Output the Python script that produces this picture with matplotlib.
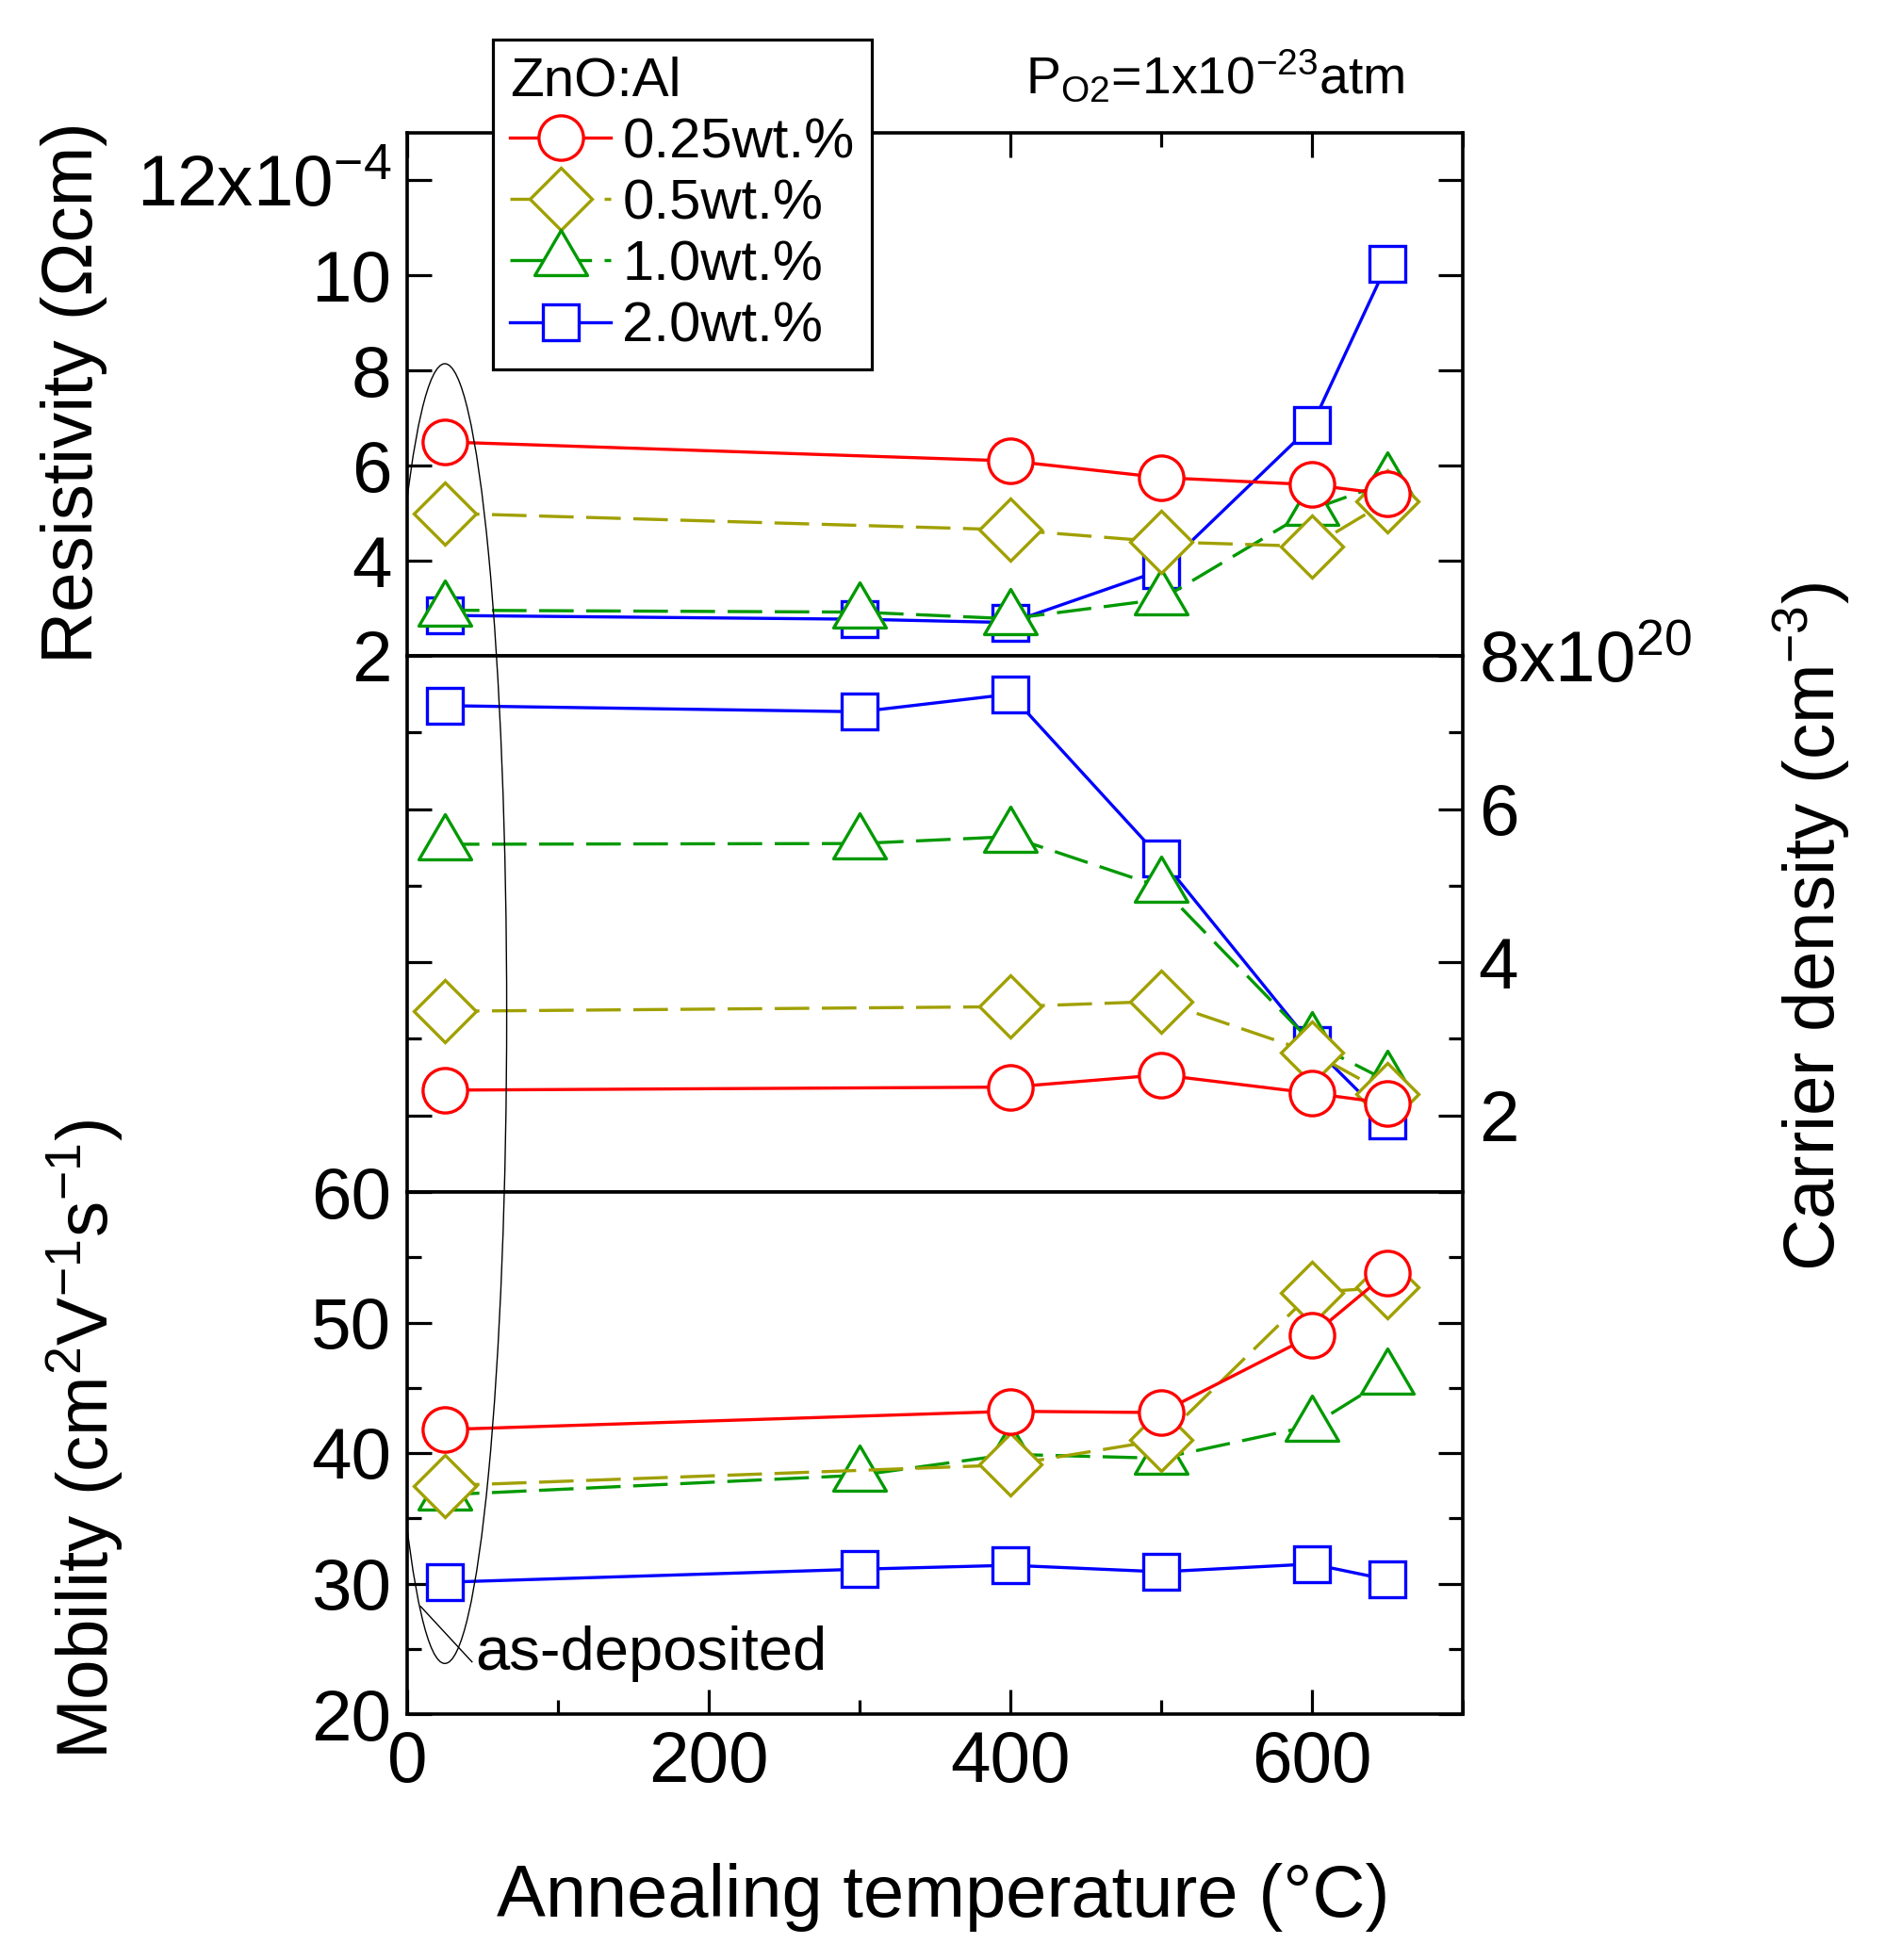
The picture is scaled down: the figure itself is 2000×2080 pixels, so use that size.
import matplotlib
matplotlib.use('Agg')
import matplotlib.pyplot as plt
from matplotlib.patches import Ellipse
from matplotlib.path import Path
from matplotlib.ticker import MultipleLocator

plt.rcParams['font.family'] = ['Liberation Sans', 'DejaVu Sans']
plt.rcParams['mathtext.default'] = 'regular'

# annealing temperatures (first point = as-deposited)
temp_low = [25, 400, 500, 600, 650]          # 0.25 and 0.5 wt.%
temp_high = [25, 300, 400, 500, 600, 650]    # 1.0 and 2.0 wt.%

labels = ['0.25wt.%', '0.5wt.%', '1.0wt.%', '2.0wt.%']

# resistivity (x10^-4 Ohm cm)
res_025 = [6.5, 6.1, 5.75, 5.6, 5.4]
res_05 = [5.0, 4.65, 4.4, 4.3, 5.25]
res_10 = [2.96, 2.92, 2.78, 3.19, 5.08, 5.65]
res_20 = [2.85, 2.77, 2.7, 3.8, 6.85, 10.25]

# carrier density (x10^20 cm^-3)
dens_025 = [2.33, 2.37, 2.53, 2.29, 2.16]
dens_05 = [3.36, 3.42, 3.49, 2.82, 2.28]
dens_10 = [5.54, 5.55, 5.64, 4.98, 2.95, 2.45]
dens_20 = [7.35, 7.27, 7.5, 5.35, 2.92, 1.94]

# mobility (cm^2/Vs)
mob_025 = [41.8, 43.2, 43.1, 49.0, 53.8]
mob_05 = [37.5, 39.1, 41.0, 52.3, 52.7]
mob_10 = [36.8, 38.3, 39.9, 39.6, 42.1, 45.7]
mob_20 = [30.1, 31.1, 31.4, 30.9, 31.5, 30.3]

# triangle centred on its centroid
tri = Path([(0, 32), (-28, -16), (28, -16), (0, 32)], closed=True)

styles = [
    dict(color='#ff0000', ls='-', marker='o', ms=34, z=6),
    dict(color='#a0a000', ls='--', marker='D', ms=34, z=5),
    dict(color='#009900', ls='--', marker=tri, ms=46, z=4),
    dict(color='#0000ff', ls='-', marker='s', ms=27, z=3),
]

W, H = 2000, 2080


def box(x0, y0, x1, y1):
    return [x0 / W, 1 - y1 / H, (x1 - x0) / W, (y1 - y0) / H]


fig = plt.figure(figsize=(20, 20.8), dpi=100)
ax_r = fig.add_axes(box(432, 141, 1552, 696))
ax_n = fig.add_axes(box(432, 696, 1552, 1265))
ax_m = fig.add_axes(box(432, 1265, 1552, 1819))

panels = [
    (ax_r, [res_025, res_05, res_10, res_20]),
    (ax_n, [dens_025, dens_05, dens_10, dens_20]),
    (ax_m, [mob_025, mob_05, mob_10, mob_20]),
]

handles = []
for ax, data in panels:
    hs = []
    for i, (ys, st) in enumerate(zip(data, styles)):
        xs = temp_low if i < 2 else temp_high
        ln, = ax.plot(xs, ys, color=st['color'], ls=st['ls'], lw=2.4,
                      marker=st['marker'], ms=st['ms'], mfc='white',
                      mec=st['color'], mew=2.4, zorder=st['z'],
                      clip_on=False, label=labels[i])
        if st['ls'] == '--':
            ln.set_dashes((11, 4))
        hs.append(ln)
    if ax is ax_r:
        handles = hs

for ax in (ax_r, ax_n, ax_m):
    ax.set_xlim(0, 700)
    for s in ax.spines.values():
        s.set_linewidth(2.6)
    ax.tick_params(which='both', direction='in', width=2.3, labelsize=55, pad=12)
    ax.tick_params(which='major', length=19)
    ax.tick_params(which='minor', length=11)
    ax.xaxis.set_major_locator(MultipleLocator(200))
    ax.xaxis.set_minor_locator(MultipleLocator(100))

# resistivity
ax_r.set_ylim(2, 13)
ax_r.set_yticks([2, 4, 6, 8, 10, 12])
ax_r.set_yticklabels(['2', '4', '6', '8', '10', '12x10$^{-4}$'])
ax_r.tick_params(axis='x', which='both', bottom=False, top=True, labelbottom=False)
ax_r.tick_params(axis='y', which='both', left=True, right=True)

# carrier density
ax_n.set_ylim(1, 8)
ax_n.set_yticks([2, 4, 6, 8])
ax_n.set_yticklabels(['2', '4', '6', '8x10$^{20}$'])
ax_n.yaxis.set_minor_locator(MultipleLocator(1))
ax_n.tick_params(axis='x', which='both', bottom=False, top=False, labelbottom=False)
ax_n.tick_params(axis='y', which='both', left=True, right=True,
                 labelleft=False, labelright=True)

# mobility
ax_m.set_ylim(20, 60)
ax_m.yaxis.set_major_locator(MultipleLocator(10))
ax_m.yaxis.set_minor_locator(MultipleLocator(5))
ax_m.tick_params(axis='x', which='both', bottom=True, top=False)
ax_m.tick_params(axis='y', which='both', left=True, right=True)
ax_m.text(45, 23.4, 'as-deposited', fontsize=47, ha='left', va='baseline')

# ellipse around the as-deposited points
ov = fig.add_axes(box(432, 141, 1552, 1819))
ov.set_xlim(0, 700)
ov.set_ylim(0, 1)
ov.axis('off')
ov.add_patch(Ellipse((25, 0.443), width=82, height=0.822, fill=False,
                     ec='black', lw=1.0))
ov.plot([9, 43], [0.068, 0.033], color='black', lw=1.0, clip_on=False)

# axis labels
fig.text(79 / W, 1 - 417 / H, 'Resistivity (Ωcm)', rotation=90,
         ha='center', va='center', fontsize=55)
fig.text(90 / W, 1 - 1528 / H, 'Mobility (cm$^{2}$V$^{-1}$s$^{-1}$)', rotation=90,
         ha='center', va='center', fontsize=55)
fig.text(1922 / W, 1 - 983 / H, 'Carrier density (cm$^{-3}$)', rotation=90,
         ha='center', va='center', fontsize=55)
fig.text(1001 / W, 1 - 2013 / H, 'Annealing temperature (°C)',
         ha='center', va='center', fontsize=56)
fig.text(1088 / W, 1 - 99 / H, 'P$_{O2}$=1x10$^{-23}$atm',
         ha='left', va='baseline', fontsize=40)

leg = fig.legend(handles, labels, title='ZnO:Al', loc='upper left',
                 bbox_to_anchor=(523 / W, 1 - 42 / H), borderaxespad=0,
                 fontsize=43, title_fontsize=42, alignment='left',
                 fancybox=False, edgecolor='black', framealpha=1,
                 borderpad=0.3, labelspacing=0.17, handlelength=1.8,
                 handletextpad=0.2, numpoints=1)
leg.get_frame().set_linewidth(2.3)

fig.savefig('out.png', dpi=100)
